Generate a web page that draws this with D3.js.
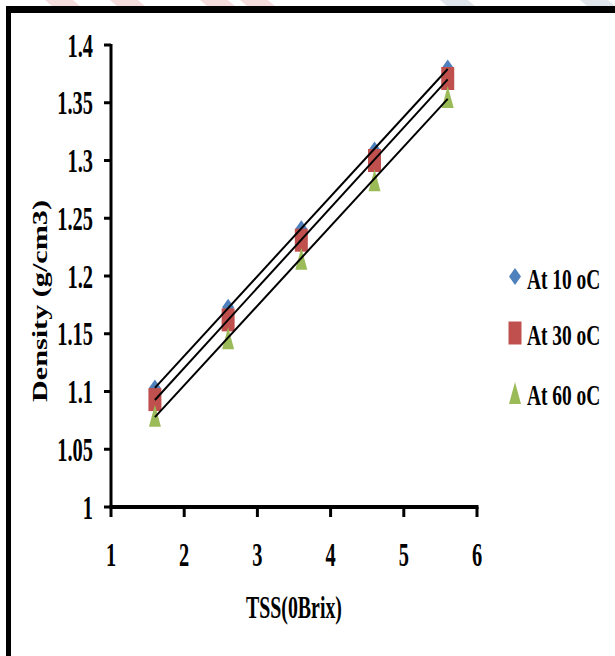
<!DOCTYPE html>
<html>
<head>
<meta charset="utf-8">
<script src="https://cdn.jsdelivr.net/npm/d3@7"></script>
<style>
  body { margin: 0; background: #fff; }
  text { font-family: "Liberation Serif", "Times New Roman", serif; font-weight: bold; fill: #000; }
</style>
</head>
<body>
<svg id="chart" width="615" height="656"></svg>
<script>
// data
var tss = [1.6, 2.6, 3.6, 4.6, 5.6];
var at10 = [1.103, 1.173, 1.241, 1.309, 1.380];
var at30 = [1.093, 1.162, 1.231, 1.300, 1.371];
var at60 = [1.079, 1.146, 1.215, 1.283, 1.355];
var seriesNames = ['At 10 oC', 'At 30 oC', 'At 60 oC'];
var xTicks = [1, 2, 3, 4, 5, 6];
var yTicks = [1, 1.05, 1.1, 1.15, 1.2, 1.25, 1.3, 1.35, 1.4];

var series = [
    { name: seriesNames[0], values: at10, color: '#4F81BD', shape: 'diamond' },
    { name: seriesNames[1], values: at30, color: '#C0504D', shape: 'square' },
    { name: seriesNames[2], values: at60, color: '#9BBB59', shape: 'triangle' }
];

var svg = d3.select('#chart');

svg.append('rect').attr('width', 615).attr('height', 656).attr('fill', '#fff');

// faint watermark stripes above the frame
var wm = svg.append('g').attr('opacity', 0.35);
[[45, '#e8a0a0'], [110, '#e8a0a0'], [200, '#e8a0a0'], [240, '#e8a0a0'], [440, '#a9b6c8'], [580, '#a9b6c8']].forEach(function (s) {
    wm.append('path')
        .attr('d', 'M' + s[0] + ',0 L' + (s[0] + 28) + ',0 L' + (s[0] + 36) + ',7 L' + (s[0] + 8) + ',7 Z')
        .attr('fill', s[1]);
});

// frame
svg.append('rect').attr('x', 6).attr('y', 6).attr('width', 609).attr('height', 7).attr('fill', '#000');
svg.append('rect').attr('x', 6).attr('y', 6).attr('width', 5).attr('height', 650).attr('fill', '#000');

var x = d3.scaleLinear().domain([1, 6]).range([111, 477]);
var y = d3.scaleLinear().domain([1, 1.4]).range([507, 45]);

// axes
var yAxis = svg.append('g');
yAxis.append('line')
    .attr('x1', x(1)).attr('x2', x(1))
    .attr('y1', y(1.4) - 1).attr('y2', y(1))
    .attr('stroke', '#000').attr('stroke-width', 3);
yAxis.selectAll('.yt').data(yTicks).enter().append('line')
    .attr('x1', x(1) - 7).attr('x2', x(1))
    .attr('y1', function (d) { return y(d); })
    .attr('y2', function (d) { return y(d); })
    .attr('stroke', '#000').attr('stroke-width', 3);
yAxis.selectAll('.yl').data(yTicks).enter().append('text')
    .attr('transform', function (d) { return 'translate(93,' + (y(d) + 11.5) + ') scale(0.6,1)'; })
    .attr('text-anchor', 'end')
    .attr('font-size', 34)
    .text(function (d) { return d3.format('')(d); });

var xAxis = svg.append('g');
xAxis.append('line')
    .attr('x1', x(1) - 1.5).attr('x2', x(6) + 1.5)
    .attr('y1', y(1)).attr('y2', y(1))
    .attr('stroke', '#000').attr('stroke-width', 4);
xAxis.selectAll('.xt').data(xTicks).enter().append('line')
    .attr('x1', function (d) { return x(d); })
    .attr('x2', function (d) { return x(d); })
    .attr('y1', y(1)).attr('y2', y(1) + 10)
    .attr('stroke', '#000').attr('stroke-width', 3);
xAxis.selectAll('.xl').data(xTicks).enter().append('text')
    .attr('transform', function (d) { return 'translate(' + x(d) + ',566) scale(0.6,1)'; })
    .attr('text-anchor', 'middle')
    .attr('font-size', 34)
    .text(function (d) { return d; });

// axis titles
svg.append('text')
    .attr('transform', 'translate(294,618) scale(0.62,1)')
    .attr('text-anchor', 'middle')
    .attr('font-size', 32)
    .text('TSS(0Brix)');

svg.append('text')
    .attr('transform', 'translate(47,301) rotate(-90)')
    .attr('text-anchor', 'middle')
    .attr('font-size', 21)
    .attr('textLength', 202)
    .attr('lengthAdjust', 'spacingAndGlyphs')
    .text('Density (g/cm3)');

// marker shapes, slightly taller than wide like the source
function markerPath(shape) {
    if (shape === 'diamond') return 'M0,-8.5 L6,0 L0,8.5 L-6,0 Z';
    if (shape === 'square') return 'M-6.5,-11.5 L6.5,-11.5 L6.5,11.5 L-6.5,11.5 Z';
    return 'M0,-11 L6,11 L-6,11 Z';
}

var plot = svg.append('g');
series.forEach(function (s) {
    plot.selectAll(null).data(s.values).enter().append('path')
        .attr('d', markerPath(s.shape))
        .attr('transform', function (d, i) { return 'translate(' + x(tss[i]) + ',' + y(d) + ')'; })
        .attr('fill', s.color);
});

// linear trend lines
function fit(xs, ys) {
    var mx = d3.mean(xs), my = d3.mean(ys);
    var num = d3.sum(xs, function (v, i) { return (v - mx) * (ys[i] - my); });
    var den = d3.sum(xs, function (v) { return (v - mx) * (v - mx); });
    var b = num / den;
    return function (v) { return my + b * (v - mx); };
}

var line = d3.line().x(function (d) { return x(d[0]); }).y(function (d) { return y(d[1]); });
series.forEach(function (s) {
    var f = fit(tss, s.values);
    var ends = [tss[0], tss[tss.length - 1]];
    plot.append('path')
        .attr('d', line(ends.map(function (v) { return [v, f(v)]; })))
        .attr('stroke', '#000').attr('stroke-width', 2).attr('fill', 'none');
});

// legend
var legend = svg.append('g');
var rows = [276.5, 333, 393];
series.forEach(function (s, i) {
    legend.append('path')
        .attr('d', markerPath(s.shape))
        .attr('transform', 'translate(515,' + rows[i] + ')')
        .attr('fill', s.color);
    legend.append('text')
        .attr('transform', 'translate(527,' + (rows[i] + 12) + ') scale(0.67,1)')
        .attr('font-size', 29)
        .text(s.name);
});
</script>
</body>
</html>
